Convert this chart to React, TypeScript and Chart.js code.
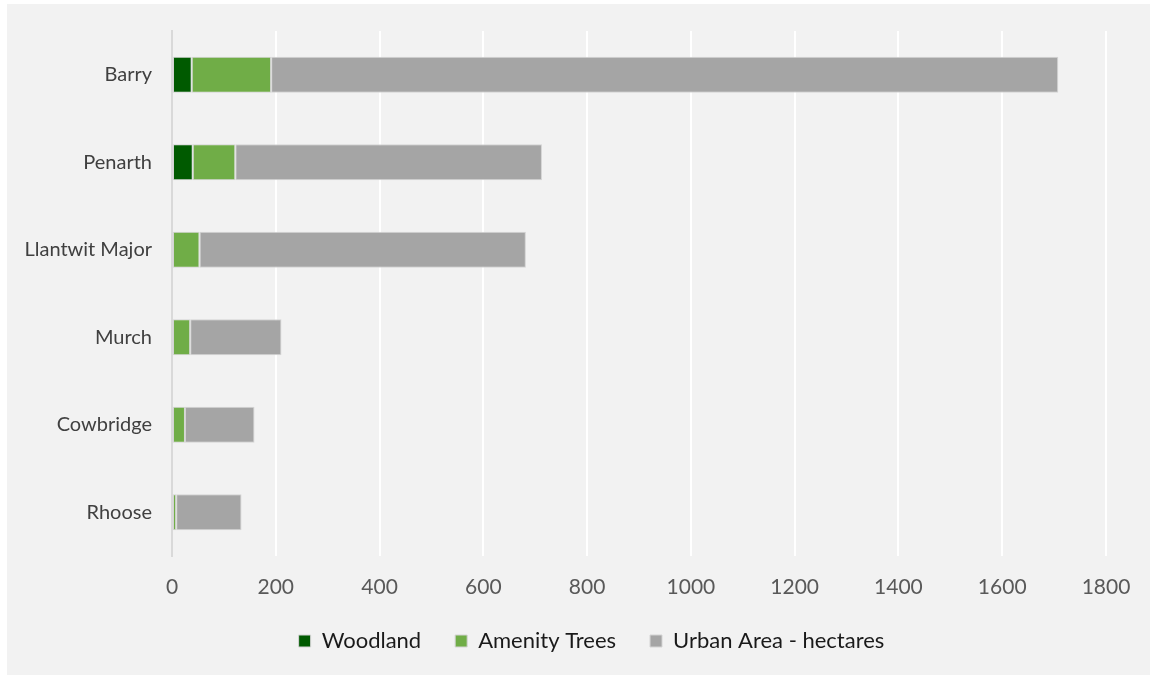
import React, { useEffect, useRef } from "react";
import { Chart, registerables } from "chart.js";

Chart.register(...registerables);

const categories = ["Barry", "Penarth", "Llantwit Major", "Murch", "Cowbridge", "Rhoose"];
const woodland = [38, 40, 0, 0, 0, 0];
const amenityTrees = [153, 82, 53, 35, 25, 8];
const urbanArea = [1517, 591, 629, 176, 134, 126];
const xTicks = [0, 200, 400, 600, 800, 1000, 1200, 1400, 1600, 1800];

const FONT = "Lato, 'Liberation Sans', sans-serif";

const shiftLegend = {
  id: "shiftLegend",
  afterLayout(chart: any) {
    const l = chart.legend;
    if (l) {
      l.left += 35;
      l.right += 35;
    }
  },
};

export default function App() {
  const ref = useRef<HTMLCanvasElement | null>(null);

  useEffect(() => {
    if (!ref.current) return;
    const chart = new Chart(ref.current, {
      type: "bar",
      data: {
        labels: categories,
        datasets: [
          { label: "Woodland", data: woodland, backgroundColor: "#005a00" },
          { label: "Amenity Trees", data: amenityTrees, backgroundColor: "#70ad47" },
          { label: "Urban Area - hectares", data: urbanArea, backgroundColor: "#a5a5a5" },
        ].map((d) => ({
          ...d,
          borderColor: "#d4d4d4",
          borderWidth: 1,
          borderSkipped: false,
          categoryPercentage: 1,
          barPercentage: 0.412,
        })),
      },
      options: {
        indexAxis: "y",
        responsive: false,
        animation: false,
        layout: { padding: { top: 27, right: 44, bottom: 13, left: 0 } },
        plugins: {
          tooltip: { enabled: false },
          legend: {
            position: "bottom",
            labels: {
              boxWidth: 12,
              boxHeight: 12,
              padding: 34,
              color: "#1a1a1a",
              font: { family: FONT, size: 22 },
            },
          },
        },
        scales: {
          x: {
            stacked: true,
            min: 0,
            max: 1800,
            afterBuildTicks: (scale: any) => {
              scale.ticks = xTicks.map((v) => ({ value: v }));
            },
            afterFit: (scale: any) => {
              scale.height = 40;
            },
            grid: { color: "#ffffff", lineWidth: 2, drawTicks: false },
            border: { display: false },
            ticks: {
              padding: 19,
              color: "#595959",
              font: { family: FONT, size: 21 },
              callback: (v: any) => String(v),
            },
          },
          y: {
            stacked: true,
            afterFit: (scale: any) => {
              scale.width = 165;
              scale.paddingTop = 0;
              scale.paddingBottom = 0;
            },
            grid: { display: false, drawTicks: false },
            border: { display: true, color: "#d9d9d9", width: 2 },
            ticks: {
              padding: 20,
              color: "#404040",
              font: { family: FONT, size: 20 },
            },
          },
        },
      },
      plugins: [shiftLegend],
    } as any);
    return () => chart.destroy();
  }, []);

  return (
    <div style={{ position: "absolute", left: 0, top: 0, width: 1154, height: 675, background: "#ffffff" }}>
      <div style={{ position: "absolute", left: 7, top: 4, width: 1143, height: 671, background: "#f2f2f2" }}>
        <canvas ref={ref} width={1143} height={671} />
      </div>
    </div>
  );
}
